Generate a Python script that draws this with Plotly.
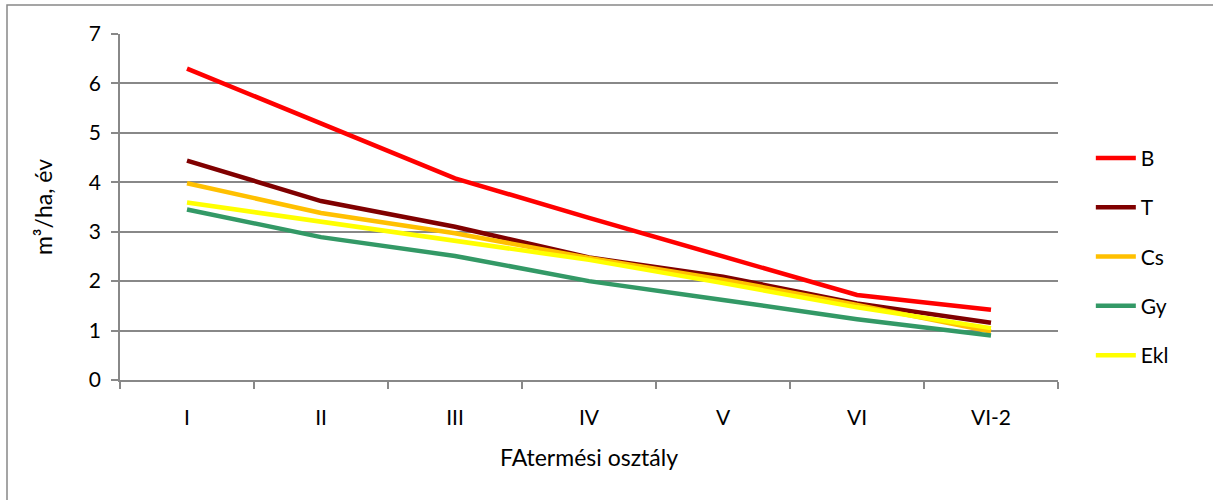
import plotly.graph_objects as go

categories = ["I", "II", "III", "IV", "V", "VI", "VI-2"]
series_names = ["B", "T", "Cs", "Gy", "Ekl"]
B = [6.3, 5.2, 4.08, 3.28, 2.49, 1.72, 1.42]
T = [4.44, 3.62, 3.10, 2.48, 2.09, 1.55, 1.16]
Cs = [3.98, 3.38, 2.97, 2.47, 2.03, 1.52, 0.98]
Gy = [3.45, 2.89, 2.51, 2.00, 1.62, 1.23, 0.90]
Ekl = [3.59, 3.20, 2.83, 2.43, 1.96, 1.47, 1.05]
values = [B, T, Cs, Gy, Ekl]
colors = ["#FF0000", "#800000", "#FFC000", "#339966", "#FFFF00"]

FONT = "Lato, Noto Sans, sans-serif"

fig = go.Figure()
for name, vals, col in zip(series_names, values, colors):
    fig.add_trace(go.Scatter(
        x=categories, y=vals, name=name, mode="lines",
        line=dict(color=col, width=4.5),
        legendgroup=name,
    ))

fig.update_layout(
    width=1213, height=500,
    margin=dict(l=120, r=155, t=34, b=120),
    paper_bgcolor="white", plot_bgcolor="white",
    font=dict(family=FONT, color="#000000", size=19),
    showlegend=True,
    legend=dict(
        x=1.035, xanchor="left", y=0.70, yanchor="top",
        font=dict(family=FONT, size=21, color="#000"),
        tracegroupgap=19, itemwidth=40,
        bgcolor="rgba(0,0,0,0)",
    ),
    xaxis=dict(
        type="category",
        showgrid=False,
        showline=True, linecolor="#888888", linewidth=1.5,
        ticks="outside", tickson="boundaries", ticklen=7, tickcolor="#888888", tickwidth=1.5,
        ticklabelstandoff=18,
        tickfont=dict(family=FONT, size=21),
        title=dict(text="FAtermési osztály", font=dict(family=FONT, size=23), standoff=22),
        range=[-0.5, 6.5],
        fixedrange=True,
    ),
    yaxis=dict(
        range=[0, 7], dtick=1,
        showgrid=True, gridcolor="#888888", gridwidth=1.5,
        showline=True, linecolor="#888888", linewidth=1.5,
        ticks="outside", ticklen=7, tickcolor="#888888", tickwidth=1.5,
        ticklabelstandoff=6,
        tickfont=dict(family=FONT, size=21),
        title=dict(text="m³/ha, év", font=dict(family=FONT, size=23), standoff=30),
        zeroline=False,
        fixedrange=True,
    ),
)

# outer chart border
fig.add_shape(type="rect", xref="paper", yref="paper",
              x0=(7 - 120) / 938, x1=(1216 - 120) / 938,
              y0=(380 - 503) / 346, y1=(380 - 5) / 346,
              line=dict(color="#888888", width=1.5), fillcolor="rgba(0,0,0,0)", layer="below")

fig.write_html("out.html")
